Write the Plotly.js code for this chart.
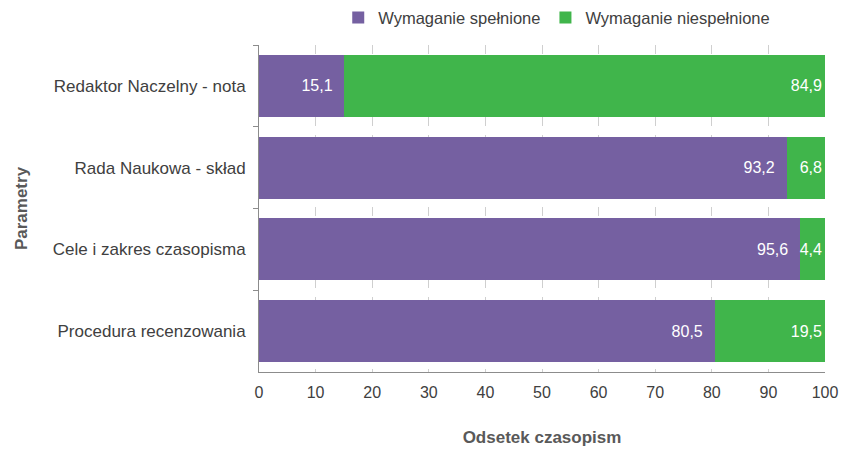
<!DOCTYPE html>
<html>
<head>
<meta charset="utf-8">
<script src="https://cdn.plot.ly/plotly-3.0.1.min.js"></script>
<style>html,body{margin:0;padding:0;background:#fff;}#chart{width:842px;height:450px;}</style>
</head>
<body>
<div id="chart"></div>
<script>
const categories = ["Redaktor Naczelny - nota", "Rada Naukowa - skład", "Cele i zakres czasopisma", "Procedura recenzowania"];
const spelnione = [15.1, 93.2, 95.6, 80.5];
const niespelnione = [84.9, 6.8, 4.4, 19.5];
const seriesNames = ["Wymaganie spełnione", "Wymaganie niespełnione"];
const xTicks = [0, 10, 20, 30, 40, 50, 60, 70, 80, 90, 100];

const font = "Liberation Sans, Arial, sans-serif";
const common = {
  type: "bar", orientation: "h", y: categories,
  textposition: "inside", insidetextanchor: "end", textangle: 0, constraintext: "none",
  textfont: {family: font, size: 16, color: "#ffffff"},
  cliponaxis: false, hoverinfo: "none"
};
const data = [
  Object.assign({}, common, {x: spelnione, name: seriesNames[0], marker: {color: "#7560A1"},
    texttemplate: "%{x:.1f}\u00a0\u00a0"}),
  Object.assign({}, common, {x: niespelnione, name: seriesNames[1], marker: {color: "#40B54B"},
    texttemplate: "%{x:.1f}"})
];
const layout = {
  width: 842, height: 450,
  margin: {l: 259, r: 17, t: 45, b: 78, autoexpand: false},
  barmode: "stack", bargap: 0.24,
  separators: ",.",
  paper_bgcolor: "#fff", plot_bgcolor: "#fff",
  font: {family: font, size: 16, color: "#404040"},
  showlegend: true,
  legend: {orientation: "h", x: 0.14, xanchor: "left", y: 1.083, yanchor: "middle",
           font: {family: font, size: 16.5, color: "#404040"}, traceorder: "normal",
           itemwidth: 30, itemclick: false},
  xaxis: {
    range: [0, 100], tickvals: xTicks, ticktext: xTicks.map(String),
    showgrid: true, gridcolor: "#cfcfcf", griddash: "dash", gridwidth: 1,
    showline: true, linecolor: "#8c8c8c", linewidth: 1,
    ticks: "", zeroline: false, ticklabelstandoff: 6,
    tickfont: {family: font, size: 16, color: "#404040"},
    title: {text: "<b>Odsetek czasopism</b>", font: {family: font, size: 17, color: "#595959"}, standoff: 30}
  },
  yaxis: {
    autorange: "reversed", type: "category",
    showline: true, linecolor: "#8c8c8c", linewidth: 1,
    ticks: "outside", tickson: "boundaries", ticklen: 5, tickcolor: "#8c8c8c",
    showgrid: false, zeroline: false, ticklabelstandoff: 9,
    tickfont: {family: font, size: 17, color: "#404040"},
    title: {text: "<b>Parametry</b>", font: {family: font, size: 17, color: "#595959"}, standoff: 20}
  }
};
Plotly.newPlot("chart", data, layout, {staticPlot: true});
</script>
</body>
</html>
